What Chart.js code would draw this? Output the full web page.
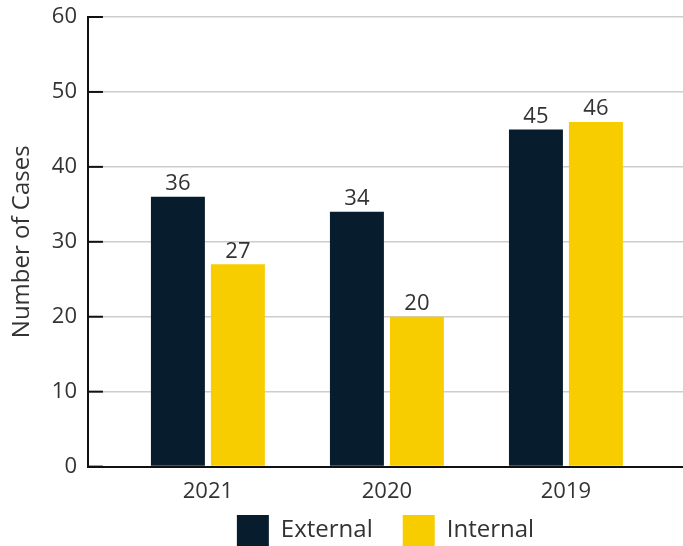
<!DOCTYPE html>
<html>
<head>
<meta charset="utf-8">
<script src="https://cdn.jsdelivr.net/npm/chart.js@4"></script>
<style>
  html, body { margin: 0; padding: 0; background: #fff; }
  #wrap { width: 683px; height: 546px; }
</style>
</head>
<body>
<div id="wrap"><canvas id="casesChart"></canvas></div>
<script>
const years = ["2021", "2020", "2019"];
const externalCases = [36, 34, 45];
const internalCases = [27, 20, 46];
const yTicks = [0, 10, 20, 30, 40, 50, 60];

const navy = "#071d2d";
const yellow = "#f8cd00";
const textColor = "#333333";
const fontFamily = "'Open Sans', sans-serif";

// bars sit on a numeric x axis so the year groups can be placed freely
const toPoints = (values) => values.map((v, i) => ({ x: i, y: v }));

// short dark ticks drawn inward from the y axis
const innerTicks = {
  id: "innerTicks",
  afterDraw(chart) {
    const ctx = chart.ctx;
    const yScale = chart.scales.y;
    const left = chart.chartArea.left;
    ctx.save();
    ctx.strokeStyle = "#111111";
    ctx.lineWidth = 2;
    yTicks.forEach((t) => {
      const py = yScale.getPixelForValue(t);
      ctx.beginPath();
      ctx.moveTo(left, py);
      ctx.lineTo(left + 15, py);
      ctx.stroke();
    });
    ctx.restore();
  }
};

// value printed above each bar
const barValues = {
  id: "barValues",
  afterDatasetsDraw(chart) {
    const ctx = chart.ctx;
    ctx.save();
    ctx.fillStyle = textColor;
    ctx.font = "22px " + fontFamily;
    ctx.textAlign = "center";
    ctx.textBaseline = "bottom";
    chart.data.datasets.forEach((ds, di) => {
      chart.getDatasetMeta(di).data.forEach((bar, i) => {
        ctx.fillText(String(ds.data[i].y), bar.x, bar.y - 2);
      });
    });
    ctx.restore();
  }
};

// keep the wide item spacing of the legend without the tall box it brings:
// reserve only a thin strip in the layout, then let it reach up over the gap
const legendLift = 32;
const legendFit = {
  id: "legendFit",
  beforeLayout(chart) {
    const legend = chart.legend;
    if (legend && !legend._fitWrapped) {
      const fit = legend.fit.bind(legend);
      legend.fit = () => { fit(); legend.height = 29; };
      legend._fitWrapped = true;
    }
  },
  afterLayout(chart) {
    const legend = chart.legend;
    if (legend) {
      legend.top -= legendLift;
      legend.height += legendLift;
    }
  }
};

new Chart(document.getElementById("casesChart"), {
  type: "bar",
  data: {
    datasets: [
      {
        label: "External",
        data: toPoints(externalCases),
        backgroundColor: navy,
        categoryPercentage: 0.67,
        barPercentage: 0.9
      },
      {
        label: "Internal",
        data: toPoints(internalCases),
        backgroundColor: yellow,
        categoryPercentage: 0.67,
        barPercentage: 0.9
      }
    ]
  },
  options: {
    responsive: true,
    maintainAspectRatio: false,
    animation: false,
    layout: { padding: { top: 17, right: 0, bottom: 0, left: 8 } },
    scales: {
      x: {
        type: "linear",
        offset: false,
        min: -0.67,
        max: 2.654,
        afterBuildTicks(scale) {
          scale.ticks = years.map((_, i) => ({ value: i }));
        },
        ticks: {
          callback: (v) => years[v],
          color: textColor,
          font: { family: fontFamily, size: 22 },
          padding: 12,
          autoSkip: false,
          maxRotation: 0
        },
        grid: { display: false, drawTicks: false },
        border: { display: true, color: "#111111", width: 2 }
      },
      y: {
        min: 0,
        max: 60,
        afterBuildTicks(scale) {
          scale.ticks = yTicks.map((v) => ({ value: v }));
        },
        afterFit(scale) {
          scale.paddingTop = 0;
          scale.paddingBottom = 0;
        },
        ticks: {
          color: textColor,
          font: { family: fontFamily, size: 22 },
          padding: 11
        },
        grid: { color: "#cdcdcd", lineWidth: 1.5, drawTicks: false },
        border: { display: true, color: "#111111", width: 2 },
        title: {
          display: true,
          text: "Number of Cases",
          color: textColor,
          font: { family: fontFamily, size: 24 },
          padding: { top: 0, bottom: 4 }
        }
      }
    },
    plugins: {
      legend: {
        position: "bottom",
        fullSize: false,
        labels: {
          boxWidth: 32,
          boxHeight: 31,
          color: textColor,
          font: { family: fontFamily, size: 24 },
          padding: 30
        }
      },
      tooltip: { enabled: false }
    }
  },
  plugins: [innerTicks, barValues, legendFit]
});
</script>
</body>
</html>
